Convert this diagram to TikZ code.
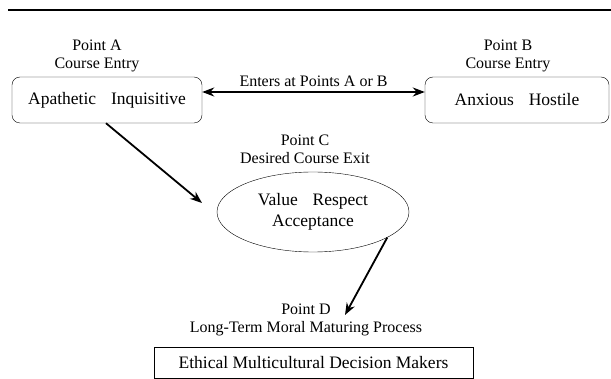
\documentclass[tikz,border=0pt]{standalone}
\usepackage{fontspec}
\setmainfont{Liberation Serif}
\usetikzlibrary{arrows.meta,positioning,shapes.geometric}

\begin{document}
\begin{tikzpicture}[x=1pt,y=-1pt,>={Stealth[length=12pt,width=9pt]},
    state/.style={draw,rounded corners=8pt,minimum height=46pt,font=\fontsize{17.5}{21}\selectfont},
    goal/.style={draw,ellipse,minimum width=192pt,minimum height=80pt,inner sep=0pt,align=center,font=\fontsize{17.5}{21}\selectfont},
    result/.style={draw,minimum width=319pt,minimum height=31pt,font=\fontsize{17.5}{21}\selectfont},
    tag/.style={align=center,inner sep=0pt,font=\fontsize{16}{18}\selectfont},
    flow/.style={->,line width=1.8pt}]
  \useasboundingbox (0,0) rectangle (611,379);
  \draw[line width=2.5pt] (8,10) -- (611,10);
  % entry points
  \node[state,minimum width=190pt] (A) at (107,100) {Apathetic\hspace{0.85em}Inquisitive};
  \node[state,minimum width=184pt] (B) at (517,100) {Anxious\hspace{0.85em}Hostile};
  \node[tag] (tA) at (97,56) {Point A\\Course Entry};
  \node[tag] (tB) at (508,56) {Point B\\Course Entry};
  \draw[flow,<->] ([yshift=8pt]A.east) -- node[tag,above=4pt] (tE) {Enters at Points A or B} ([yshift=8pt]B.west);
  % exit
  \node[goal] (C) at (313,212) {Value\hspace{0.85em}Respect\\Acceptance};
  \node[tag] (tC) at (305,149) {Point C\\Desired Course Exit};
  \coordinate (cin) at (202,203);
  \draw[flow] ([xshift=-1pt]A.south) -- (cin);
  % long term
  \node[tag] (tD) at (306,319.5) {Point D\\Long-Term Moral Maturing Process};
  \node[result] (D) at (313.5,362.5) {Ethical Multicultural Decision Makers};
  \coordinate (dout) at (345,315);
  \draw[flow] (C.-19) -- (dout);
\end{tikzpicture}
\end{document}
